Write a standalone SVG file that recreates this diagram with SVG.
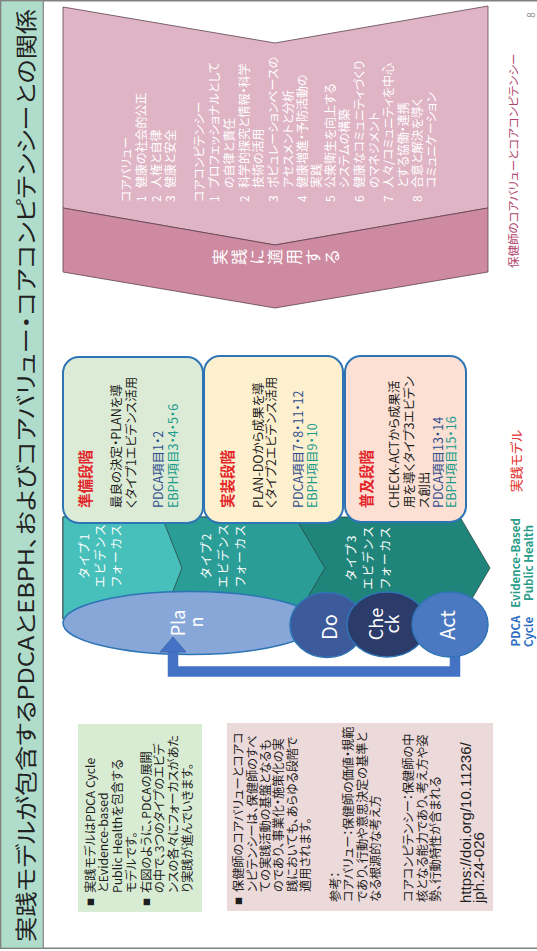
<svg xmlns="http://www.w3.org/2000/svg" width="537" height="951" viewBox="0 0 537 951">
<defs>
<style>
text{font-family:"Noto Sans CJK JP","Noto Sans",sans-serif;dominant-baseline:central;font-feature-settings:"palt" 1;}
.w{fill:#ffffff}
.m{text-anchor:middle}
.pk{font-size:12px;fill:#ffffff}
.bx{stroke:#2e75b6;stroke-width:2}
.hd{font-size:14.5px;font-weight:bold;fill:#e3262b}
.bt{font-size:12.5px;fill:#1e1e1e}
.pd{font-size:12.5px;fill:#2f4d8c}
.eb{font-size:12.5px;fill:#1a9b8c}
.ch{stroke:#2d4646;stroke-width:0.8}
.ct{font-size:12px;fill:#ffffff;text-anchor:middle;letter-spacing:2px}
.nd{stroke:#2e75b6;stroke-width:1.5}
.nt{fill:#ffffff;text-anchor:middle}
.nb{font-size:12.2px;fill:#1e1e1e}
.bl{font-size:8px;fill:#1e1e1e}
</style>
</defs>
<rect x="0" y="0" width="537" height="951" fill="#ffffff"/>

<g id="frame">
<rect x="0.75" y="0.75" width="560" height="947.5" fill="none" stroke="#808080" stroke-width="1.5"/>
</g>

<g id="title">
<rect x="0.75" y="0.75" width="42.5" height="947.5" fill="#b0dccb" stroke="#808080" stroke-width="1.2"/>
<text transform="translate(24,942) rotate(-90)" font-size="22" fill="#222" textLength="933" lengthAdjust="spacingAndGlyphs">実践モデルが包含するPDCAとEBPH、およびコアバリュー・コアコンピテンシーとの関係</text>
</g>

<g id="page-number">
<text transform="translate(530,15) rotate(-90)" class="m" font-size="10" fill="#8c8c8c">8</text>
</g>

<g id="core-values-chevron">
<polygon points="63,7 275,43 488,6 488,208 275,245 63,208" fill="#dfb4c4" stroke="#5e4350" stroke-width="0.8"/>
<polygon points="63,208 275,245 488,208 488,272 275,308 63,272" fill="#cd8aa1" stroke="#5e4350" stroke-width="0.8"/>
<text class="pk" transform="translate(125,202) rotate(-90)">コアバリュー</text>
<text class="pk" transform="translate(140,202) rotate(-90)">1</text>
<text class="pk" transform="translate(140,188) rotate(-90)">健康の社会的公正</text>
<text class="pk" transform="translate(155,202) rotate(-90)">2</text>
<text class="pk" transform="translate(155,188) rotate(-90)">人権と自律</text>
<text class="pk" transform="translate(169,202) rotate(-90)">3</text>
<text class="pk" transform="translate(169,188) rotate(-90)">健康と安全</text>
<text class="pk" transform="translate(198,202) rotate(-90)">コアコンピテンシー</text>
<text class="pk" transform="translate(213,202) rotate(-90)">1</text>
<text class="pk" transform="translate(213,188) rotate(-90)">プロフェッショナルとして</text>
<text class="pk" transform="translate(228,188) rotate(-90)">の自律と責任</text>
<text class="pk" transform="translate(243,202) rotate(-90)">2</text>
<text class="pk" transform="translate(243,188) rotate(-90)">科学的探究と情報・科学</text>
<text class="pk" transform="translate(257,188) rotate(-90)">技術の活用</text>
<text class="pk" transform="translate(272,202) rotate(-90)">3</text>
<text class="pk" transform="translate(272,188) rotate(-90)">ポピュレーションベースの</text>
<text class="pk" transform="translate(287,188) rotate(-90)">アセスメントと分析</text>
<text class="pk" transform="translate(301,202) rotate(-90)">4</text>
<text class="pk" transform="translate(301,188) rotate(-90)">健康増進・予防活動の</text>
<text class="pk" transform="translate(315,188) rotate(-90)">実践</text>
<text class="pk" transform="translate(329,202) rotate(-90)">5</text>
<text class="pk" transform="translate(329,188) rotate(-90)">公衆衛生を向上する</text>
<text class="pk" transform="translate(343,188) rotate(-90)">システムの構築</text>
<text class="pk" transform="translate(358,202) rotate(-90)">6</text>
<text class="pk" transform="translate(358,188) rotate(-90)">健康なコミュニティづくり</text>
<text class="pk" transform="translate(373,188) rotate(-90)">のマネジメント</text>
<text class="pk" transform="translate(387,202) rotate(-90)">7</text>
<text class="pk" transform="translate(387,188) rotate(-90)">人々/コミュニティを中心</text>
<text class="pk" transform="translate(402,188) rotate(-90)">とする協働・連携</text>
<text class="pk" transform="translate(416,202) rotate(-90)">8</text>
<text class="pk" transform="translate(416,188) rotate(-90)">合意と解決を導く</text>
<text class="pk" transform="translate(430,188) rotate(-90)">コミュニケーション</text>
<g font-size="16">
<text class="m w" transform="translate(219,257) rotate(-90)">実</text>
<text class="m w" transform="translate(238,257) rotate(-90)">践</text>
<text class="m w" transform="translate(256,257) rotate(-90)">に</text>
<text class="m w" transform="translate(274,257) rotate(-90)">適</text>
<text class="m w" transform="translate(293,257) rotate(-90)">用</text>
<text class="m w" transform="translate(312,257) rotate(-90)">す</text>
<text class="m w" transform="translate(331,257) rotate(-90)">る</text>
</g>
<text transform="translate(513,268) rotate(-90)" font-size="11.5" fill="#b0466e">保健師のコアバリューとコアコンピテンシー</text>
</g>

<g id="evidence-chevrons">
<polygon class="ch" points="63,517 460,517 490,568 460,619 63,619" fill="#1f8479"/>
<polygon class="ch" points="63,517 295,517 325,568 295,619 63,619" fill="#2a9d96"/>
<polygon class="ch" points="63,517 162,517 182,568 162,619 63,619" fill="#47c0bb"/>
<text class="ct" transform="translate(83,555) rotate(-90)">タイプ1</text>
<text class="ct" transform="translate(99,555) rotate(-90)">エビデンス</text>
<text class="ct" transform="translate(115,555) rotate(-90)">フォーカス</text>
<text class="ct" transform="translate(205,555) rotate(-90)">タイプ2</text>
<text class="ct" transform="translate(222,555) rotate(-90)">エビデンス</text>
<text class="ct" transform="translate(239,555) rotate(-90)">フォーカス</text>
<text class="ct" transform="translate(350,557) rotate(-90)">タイプ3</text>
<text class="ct" transform="translate(367,557) rotate(-90)">エビデンス</text>
<text class="ct" transform="translate(384,557) rotate(-90)">フォーカス</text>
</g>

<g id="box-preparation">
<rect class="bx" x="63" y="357" width="140" height="166" rx="16" fill="#dcebd5"/>
<text class="hd" transform="translate(84,508) rotate(-90)">準備段階</text>
<text class="bt" transform="translate(115,508) rotate(-90)">最良の決定・PLANを導</text>
<text class="bt" transform="translate(130,508) rotate(-90)">くタイプ1エビデンス活用</text>
<text class="pd" transform="translate(157,508) rotate(-90)">PDCA項目1・2</text>
<text class="eb" transform="translate(172,508) rotate(-90)">EBPH項目3・4・5・6</text>
</g>

<g id="box-implementation">
<rect class="bx" x="204" y="356" width="139" height="167" rx="16" fill="#fdf0cf"/>
<text class="hd" transform="translate(226,508) rotate(-90)">実装段階</text>
<text class="bt" transform="translate(257,508) rotate(-90)">PLAN-DOから成果を導</text>
<text class="bt" transform="translate(270,508) rotate(-90)">くタイプ2エビデンス活用</text>
<text class="pd" transform="translate(297,508) rotate(-90)">PDCA項目7・8・11・12</text>
<text class="eb" transform="translate(311,508) rotate(-90)">EBPH項目9・10</text>
</g>

<g id="box-dissemination">
<rect class="bx" x="345" y="356" width="121" height="166" rx="16" fill="#fbe0d3"/>
<text class="hd" transform="translate(365,508) rotate(-90)">普及段階</text>
<text class="bt" transform="translate(393,508) rotate(-90)">CHECK-ACTから成果活</text>
<text class="bt" transform="translate(408,508) rotate(-90)">用を導くタイプ3エビデン</text>
<text class="bt" transform="translate(423,508) rotate(-90)">ス創出</text>
<text class="pd" transform="translate(437,508) rotate(-90)">PDCA項目13・14</text>
<text class="eb" transform="translate(450,508) rotate(-90)">EBPH項目15・16</text>
</g>

<g id="node-plan">
<ellipse class="nd" cx="190" cy="623" rx="127" ry="31.5" fill="#87a7d9"/>
<text class="nt" font-size="18" transform="translate(177,623) rotate(-90)">Pla</text>
<text class="nt" font-size="18" transform="translate(195,622) rotate(-90)">n</text>
</g>

<g id="connectors">
<path d="M455,650 V671.5 H173 V649" fill="none" stroke="#4472c4" stroke-width="10.5"/>
<polygon points="160,652 173,637 186,652" fill="#4472c4" stroke="#3a64ad" stroke-width="0.8"/>
</g>

<g id="node-do">
<ellipse class="nd" cx="327" cy="625" rx="37" ry="32.5" fill="#3d5b9b"/>
<text class="nt" font-size="20" transform="translate(328,627) rotate(-90)">Do</text>
</g>

<g id="node-check">
<ellipse class="nd" cx="387" cy="624.5" rx="40" ry="32.5" fill="#2b3b6a"/>
<text class="nt" font-size="18" transform="translate(375,624) rotate(-90)">Che</text>
<text class="nt" font-size="18" transform="translate(391,624) rotate(-90)">ck</text>
</g>

<g id="node-act">
<ellipse class="nd" cx="450" cy="624.5" rx="38" ry="32.5" fill="#4a78c1"/>
<text class="nt" font-size="20" transform="translate(446,625) rotate(-90)">Act</text>
</g>

<g id="legend">
<text class="m" transform="translate(515,631) rotate(-90)" font-size="11.5" font-weight="bold" fill="#2f6fbf">PDCA</text>
<text class="m" transform="translate(528,632) rotate(-90)" font-size="11.5" font-weight="bold" fill="#2f6fbf">Cycle</text>
<text class="m" transform="translate(515,563) rotate(-90)" font-size="11.5" font-weight="bold" fill="#2a9d8a">Evidence-Based</text>
<text class="m" transform="translate(528,563) rotate(-90)" font-size="11.5" font-weight="bold" fill="#2a9d8a">Public Health</text>
<text class="m" transform="translate(515,461) rotate(-90)" font-size="13" fill="#e3302c">実践モデル</text>
</g>

<g id="note-model">
<rect x="78" y="724" width="124" height="188" fill="#d8ebd3"/>
<text class="bl" transform="translate(90,906) rotate(-90)">■</text>
<text class="nb" transform="translate(90,893) rotate(-90)">実践モデルはPDCA Cycle</text>
<text class="nb" transform="translate(103,893) rotate(-90)">とEvidence-based</text>
<text class="nb" transform="translate(117,893) rotate(-90)">Public Healthを包含する</text>
<text class="nb" transform="translate(131,893) rotate(-90)">モデルです。</text>
<text class="bl" transform="translate(146,906) rotate(-90)">■</text>
<text class="nb" transform="translate(146,893) rotate(-90)">右図のように、PDCAの展開</text>
<text class="nb" transform="translate(159,893) rotate(-90)">の中で、3つのタイプのエビデ</text>
<text class="nb" transform="translate(173,893) rotate(-90)">ンスの各々にフォーカスがあた</text>
<text class="nb" transform="translate(187,893) rotate(-90)">り実践が進んでいきます。</text>
</g>

<g id="note-core">
<rect x="227" y="723" width="266" height="188" fill="#ecd9d9"/>
<text class="bl" transform="translate(238,905) rotate(-90)">■</text>
<text class="nb" transform="translate(238,892) rotate(-90)">保健師のコアバリューとコアコ</text>
<text class="nb" transform="translate(252,892) rotate(-90)">ンピテンシーは、保健師のすべ</text>
<text class="nb" transform="translate(265,892) rotate(-90)">ての実践活動の基盤となるも</text>
<text class="nb" transform="translate(278,892) rotate(-90)">のであり、事業化・施策化の実</text>
<text class="nb" transform="translate(292,892) rotate(-90)">践においても、あらゆる段階で</text>
<text class="nb" transform="translate(305,892) rotate(-90)">適用されます。</text>
<text class="nb" transform="translate(335,902) rotate(-90)">参考：</text>
<text class="nb" transform="translate(348,902) rotate(-90)">コアバリュー：保健師の価値・規範</text>
<text class="nb" transform="translate(362,902) rotate(-90)">であり、行動や意思決定の基準と</text>
<text class="nb" transform="translate(375,902) rotate(-90)">なる根源的な考え方</text>
<text class="nb" transform="translate(408,902) rotate(-90)">コアコンピテンシー：保健師の中</text>
<text class="nb" transform="translate(422,902) rotate(-90)">核となる能力であり、考え方や姿</text>
<text class="nb" transform="translate(435,902) rotate(-90)">勢、行動特性が含まれる</text>
<text transform="translate(465,903) rotate(-90)" font-size="15" fill="#1e1e1e" style="font-family:'Liberation Sans',sans-serif">https://doi.org/10.11236/</text>
<text transform="translate(478,903) rotate(-90)" font-size="15" fill="#1e1e1e" style="font-family:'Liberation Sans',sans-serif">jph.24-026</text>
</g>
</svg>
